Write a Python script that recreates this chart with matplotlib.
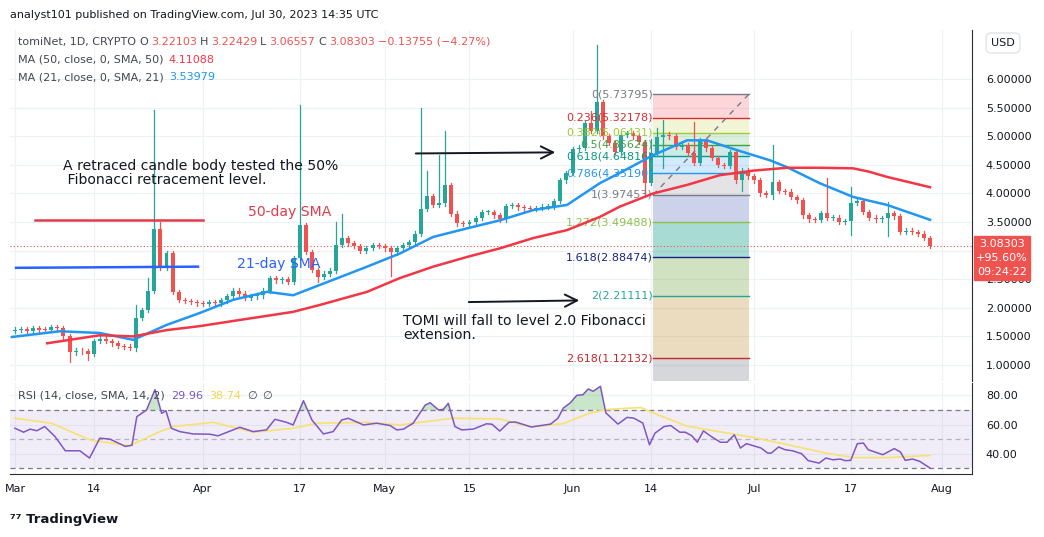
import matplotlib
matplotlib.use("Agg")
import matplotlib.pyplot as plt
import numpy as np

# ---------------- data ----------------
closes = [1.62,1.63,1.60,1.64,1.62,1.61,1.66,1.65,1.50,1.22,1.25,1.24,1.20,1.42,1.46,1.42,1.38,1.33,1.32,1.30,
          1.82,1.96,2.30,3.38,2.71,2.96,2.28,2.14,2.12,2.10,2.08,2.07,2.10,2.08,2.13,2.20,2.30,2.25,2.18,2.20,
          2.22,2.30,2.52,2.48,2.50,2.46,2.87,3.45,2.98,2.66,2.54,2.60,2.65,3.10,3.22,3.13,3.08,3.00,3.05,3.10,
          3.08,3.04,2.97,3.05,3.10,3.15,3.30,3.73,3.95,3.80,3.83,4.15,3.65,3.48,3.47,3.50,3.57,3.68,3.68,3.62,
          3.55,3.78,3.80,3.76,3.74,3.73,3.75,3.77,3.77,3.87,4.23,4.36,4.77,4.80,5.23,5.10,5.60,5.00,4.88,4.73,
          5.02,5.05,5.00,4.90,4.18,4.70,4.99,5.03,5.00,4.81,4.85,4.70,4.53,4.93,4.79,4.62,4.50,4.48,4.72,4.23,
          4.40,4.30,4.23,4.00,3.98,4.20,4.04,4.03,3.94,3.88,3.62,3.55,3.54,3.66,3.57,3.58,3.50,3.52,3.84,3.87,
          3.68,3.58,3.55,3.57,3.66,3.60,3.33,3.35,3.33,3.30,3.22,3.08303]
first_open = 1.60
spike_highs = {20: 2.05, 22: 2.52, 23: 5.46, 24: 3.50, 47: 5.55, 53: 3.50, 54: 3.65, 67: 5.49, 68: 4.40,
               70: 4.67, 71: 5.10, 96: 6.60, 95: 5.45, 105: 4.95, 107: 5.28, 112: 5.25, 125: 4.85,
               134: 4.27, 138: 4.12, 144: 3.85, 106: 5.15}
spike_lows = {9: 1.05, 12: 1.08, 13: 1.15, 20: 1.25, 50: 2.45, 62: 2.55, 104: 3.95, 125: 3.90,
              138: 3.28, 144: 3.25, 107: 4.45, 120: 4.05}

sma21_x = [-0.5,7.4,14,19.5,25,30.5,36,41.6,45.9,50.3,52.5,58.1,63.5,69,74.6,80,85.5,91.1,96.5,99.8,
           105.3,110.9,114.2,119.1,124.6,127.4,132.8,138.3,143.9,151]
sma21_y = [1.49,1.59,1.56,1.44,1.70,1.91,2.14,2.28,2.22,2.40,2.49,2.72,2.95,3.24,3.39,3.53,3.71,3.80,4.18,4.36,
           4.67,4.93,4.93,4.76,4.58,4.46,4.18,3.94,3.80,3.54]
sma50_x = [5.3,14,19.5,25,30.5,36,41.6,45.9,50.3,58.1,63.5,69,74.6,80,85.5,91.1,96.5,99.8,105.3,110.9,
           116.3,121.8,127.4,132.8,138.3,141,143.9,151]
sma50_y = [1.38,1.52,1.50,1.61,1.68,1.77,1.86,1.93,2.05,2.28,2.52,2.72,2.89,3.04,3.22,3.36,3.59,3.77,4.00,4.15,
           4.32,4.40,4.45,4.45,4.44,4.38,4.29,4.11]

rsi_x = [0,1.4,2.5,3.6,4.9,6.6,8.3,10.7,12.3,14.0,15.7,18.2,19.3,20.1,21.7,23.1,24.2,24.9,25.8,27.2,29.4,32.2,
         33.5,37.1,39.3,41.5,42.9,44.8,45.9,47.6,49.0,50.9,52.5,53.9,55.0,57.5,59.7,61.9,63.0,64.1,65.7,67.7,
         68.5,69.9,70.7,71.5,72.6,73.7,75.6,77.8,78.7,80.0,81.5,82.6,85.2,88.4,89.6,90.5,91.6,92.7,93.7,94.6,
         95.4,96.6,97.5,99.5,101.0,102.1,103.6,104.7,105.6,107.1,108.2,109.7,110.6,111.7,112.6,113.6,114.9,
         116.4,117.5,118.7,119.7,120.7,123.1,124.2,124.8,126.0,127.1,128.3,129.8,130.9,132.7,133.8,135.0,
         136.2,137.0,137.9,139.0,140.0,140.8,143.2,145.1,146.1,146.9,148.1,149.3,151]
rsi_y = [57.4,54.7,56.8,55.7,58.6,51.7,41.9,41.9,36.9,50.6,49.9,44.9,45.7,65.4,70.0,84.0,67.7,69.5,57.4,55.1,
         53.5,53.3,52.2,58.1,55.1,56.3,63.6,61.5,59.7,76.4,63.1,53.5,55.1,63.1,64.3,59.7,60.9,59.3,56.3,56.8,
         60.9,73.4,75.0,70.0,70.5,74.6,58.6,56.3,56.8,60.5,60.2,55.5,61.5,61.7,58.3,60.3,64.4,71.4,74.8,80.1,
         80.5,84.5,82.9,86.3,68.0,60.3,64.9,64.4,61.0,46.0,54.0,58.6,59.3,54.7,54.7,52.2,47.8,55.6,51.7,47.8,
         47.8,52.9,43.8,46.8,43.8,40.3,40.3,44.5,42.6,41.9,39.9,35.1,33.4,36.9,35.7,36.2,35.1,35.3,46.8,47.2,
         42.6,39.2,43.4,41.1,35.3,36.2,34.6,29.96]
rsima_x = [0,6.0,12.4,18.9,23.9,26.1,32.7,39.3,45.9,49.8,58.0,63.5,72.3,80.0,85.2,90.5,94.6,97.5,103.3,105.6,
           110.8,114.9,121.9,126.6,133.6,138.2,144.0,151]
rsima_y = [64.3,60.9,49.3,45.4,55.1,58.6,61.5,54.7,57.4,60.9,61.5,59.7,64.3,63.9,58.3,60.6,67.5,70.3,71.7,67.5,
           59.0,56.0,51.0,46.9,40.5,37.2,37.2,38.74]

fib_ratios = [0, 0.236, 0.382, 0.5, 0.618, 0.786, 1, 1.272, 1.618, 2, 2.618]
fib_values = [5.73795, 5.32178, 5.06431, 4.85624, 4.64816, 4.35190, 3.97453, 3.49488, 2.88474, 2.21111, 1.12132]
fib_labels = ["0", "0.236", "0.382", "0.5", "0.618", "0.786", "1", "1.272", "1.618", "2", "2.618"]

date_ticks = [0, 13, 31, 47, 61, 75, 92, 105, 122, 138, 153]
date_labels = ["Mar", "14", "Apr", "17", "May", "15", "Jun", "14", "Jul", "17", "Aug"]
price_ticks = [1.0, 1.5, 2.0, 2.5, 3.0, 3.5, 4.0, 4.5, 5.0, 5.5, 6.0]

# ---------------- figure ----------------
W, H = 1044, 537
fig = plt.figure(figsize=(W/100, H/100), dpi=100)
fig.patch.set_facecolor("white")
def fx(p): return p / W
def fy(p): return 1 - p / H

GREEN, RED = "#26a69a", "#ef5350"
GRID = "#eef1f6"
TXT = "#131722"
FS = 8

x_lo, x_hi = (10-15)/6.06, (972-15)/6.06
ax = fig.add_axes([fx(10), fy(381), fx(962), (381-30)/H])
ax.set_xlim(x_lo, x_hi)
ax.set_ylim(0.72, 6.86)
for s in ax.spines.values():
    s.set_visible(False)
ax.spines["right"].set_visible(True); ax.spines["right"].set_color("#2a2e39")
ax.yaxis.tick_right()
ax.set_yticks(price_ticks)
ax.set_yticklabels([f"{v:.5f}" for v in price_ticks], fontsize=FS, color=TXT)
ax.tick_params(axis="y", length=0, pad=10)
ax.set_xticks(date_ticks); ax.tick_params(axis="x", length=0, labelbottom=False)
ax.grid(True, color=GRID, lw=0.9)
ax.set_axisbelow(True)

# fib zone
fx0, fx1 = 105.3, 121.1
fill_cols = ["#f23645", "#c0ca33", "#4caf50", "#089981", "#2196f3", "#787b86", "#5c6bc0", "#089981",
             "#689f38", "#c79a4a"]
fill_alph = [0.2, 0.2, 0.2, 0.2, 0.2, 0.2, 0.3, 0.35, 0.3, 0.35]
for i in range(len(fib_values)-1):
    ax.fill_between([fx0, fx1], fib_values[i+1], fib_values[i], color=fill_cols[i], alpha=fill_alph[i], lw=0, zorder=1)
ax.fill_between([fx0, fx1], 0.72, fib_values[-1], color="#787b86", alpha=0.3, lw=0, zorder=1)
line_cols = ["#787b86", "#d32f2f", "#9ccc34", "#43a047", "#089981", "#2196f3", "#787b86", "#8bc34a",
             "#1a237e", "#26a69a", "#c62828"]
for r, v, c, lab in zip(fib_ratios, fib_values, line_cols, fib_labels):
    ax.plot([fx0, fx1], [v, v], color=c, lw=1, zorder=2)
    ax.text(fx0 - 0.1, v, f"{lab}({v:.5f})", ha="right", va="center", fontsize=FS, color=c, zorder=6)
ax.plot([fx0, fx1], [fib_values[6], fib_values[0]], ls=(0, (4, 4)), color="#787b86", lw=1, zorder=2)

# candles
opens = [first_open] + closes[:-1]
for i, (o, c) in enumerate(zip(opens, closes)):
    col = GREEN if c >= o else RED
    hi = spike_highs.get(i, max(o, c) + 0.04)
    lo = spike_lows.get(i, min(o, c) - 0.04)
    ax.plot([i, i], [lo, hi], color=col, lw=0.9, zorder=4)
    bot, top = min(o, c), max(o, c)
    ax.add_patch(plt.Rectangle((i-0.33, bot), 0.66, max(top-bot, 0.012), color=col, zorder=5, lw=0))

ax.plot(sma21_x, sma21_y, color="#2196f3", lw=1.8, zorder=6)
ax.plot(sma50_x, sma50_y, color="#f23645", lw=1.8, zorder=6)
ax.axhline(closes[-1], color="#ef5350", ls=(0, (1, 2)), lw=0.8, zorder=3)

# annotations
ax.plot([(35-15)/6.06, (203-15)/6.06], [3.53, 3.53], color="#e03c4c", lw=1.8, zorder=7)
ax.plot([(16-15)/6.06, (198-15)/6.06], [2.70, 2.72], color="#2962ff", lw=1.8, zorder=7)
ax.text((63-15)/6.06, 4.35, "A retraced candle body tested the 50%\n Fibonacci retracement level.",
        fontsize=10.1, color=TXT, va="center", ha="left", linespacing=1.0, zorder=8)
ax.text((248-15)/6.06, 3.68, "50-day SMA", fontsize=10.1, color="#e03c4c", va="center", zorder=8)
ax.text((237-15)/6.06, 2.76, "21-day SMA", fontsize=10.1, color="#2962ff", va="center", zorder=8)
ax.annotate("", xy=((558-15)/6.06, 4.72), xytext=((413-15)/6.06, 4.70),
            arrowprops=dict(arrowstyle="->", color=TXT, lw=1.4, mutation_scale=22), zorder=8)
ax.annotate("", xy=((582-15)/6.06, 2.13), xytext=((466-15)/6.06, 2.10),
            arrowprops=dict(arrowstyle="->", color=TXT, lw=1.4, mutation_scale=22), zorder=8)
ax.text((403-15)/6.06, 1.65, "TOMI will fall to level 2.0 Fibonacci\nextension.",
        fontsize=10.1, color=TXT, va="center", ha="left", linespacing=1.0, zorder=8)

# RSI pane
rx = fig.add_axes([fx(10), fy(474), fx(962), (474-383)/H])
rx.set_xlim(x_lo, x_hi); rx.set_ylim(25.9, 88.6)
for s in rx.spines.values():
    s.set_visible(False)
rx.spines["right"].set_visible(True); rx.spines["right"].set_color("#2a2e39")
rx.spines["bottom"].set_visible(True); rx.spines["bottom"].set_color("#2a2e39")
rx.yaxis.tick_right()
rx.set_yticks([40, 60, 80]); rx.set_yticklabels(["40.00", "60.00", "80.00"], fontsize=FS, color=TXT)
rx.tick_params(axis="y", length=0, pad=10)
rx.set_xticks(date_ticks); rx.set_xticklabels(date_labels, fontsize=FS, color=TXT)
rx.tick_params(axis="x", length=0, pad=7)
rx.grid(True, color=GRID, lw=0.9); rx.set_axisbelow(True)
rx.axhspan(30, 70, color="#7e57c2", alpha=0.1, lw=0)
for lv, c in [(70, "#787b86"), (50, "#b2b5be"), (30, "#787b86")]:
    rx.axhline(lv, color=c, ls=(0, (4, 3)), lw=0.9)
rx.plot(rsima_x, rsima_y, color="#f7e27a", lw=1.3, zorder=3)
rx.plot(rsi_x, rsi_y, color="#7e57c2", lw=1.1, zorder=4)
rx.fill_between(rsi_x, 70, rsi_y, where=np.array(rsi_y) > 70, interpolate=True, color="#4caf50", alpha=0.3, lw=0)

# sequential text rows (each piece placed right after the previous one)
renderer = fig.canvas.get_renderer()
def row(x0, ypix, pieces, gap=4):
    x = fx(x0)
    for txt, col in pieces:
        t = fig.text(x, fy(ypix), txt, fontsize=FS, color=col, va="center", zorder=12)
        bb = t.get_window_extent(renderer=renderer)
        x += (bb.width + gap) / W

GRAYT = "#434651"
row(18, 42, [("tomiNet, 1D, CRYPTO", GRAYT), ("O", GRAYT), ("3.22103", RED), ("H", GRAYT), ("3.22429", RED),
             ("L", GRAYT), ("3.06557", RED), ("C", GRAYT), ("3.08303", RED), ("−0.13755 (−4.27%)", RED)], gap=3)
row(18, 60, [("MA (50, close, 0, SMA, 50)", GRAYT), ("4.11088", "#f23645")], gap=5)
row(18, 77, [("MA (21, close, 0, SMA, 21)", GRAYT), ("3.53979", "#2196f3")], gap=5)
row(18, 396, [("RSI (14, close, SMA, 14, 2)", GRAYT), ("29.96", "#7e57c2"), ("38.74", "#f7d64a"), ("∅", GRAYT), ("∅", GRAYT)], gap=6)

fig.text(fx(10), fy(15), "analyst101 published on TradingView.com, Jul 30, 2023 14:35 UTC", fontsize=FS, color=TXT, va="center")
fig.text(fx(1003), fy(43), "USD", fontsize=FS, color=TXT, va="center", ha="center",
         bbox=dict(boxstyle="round,pad=0.45", fc="white", ec="#e0e3eb"))
# price label
fig.patches.append(plt.Rectangle((fx(974), fy(280)), fx(56), (280-236)/H, color="#ef5350",
                                 transform=fig.transFigure, zorder=10))
for t, yp in [("3.08303", 244), ("+95.60%", 258), ("09:24:22", 272)]:
    fig.text(fx(1002), fy(yp), t, fontsize=FS, color="white", ha="center", va="center", zorder=11)
fig.text(fx(10), fy(520), "⁷⁷ TradingView", fontsize=9.5, color=TXT, va="center", weight="bold")

fig.savefig("out.png", dpi=100)
